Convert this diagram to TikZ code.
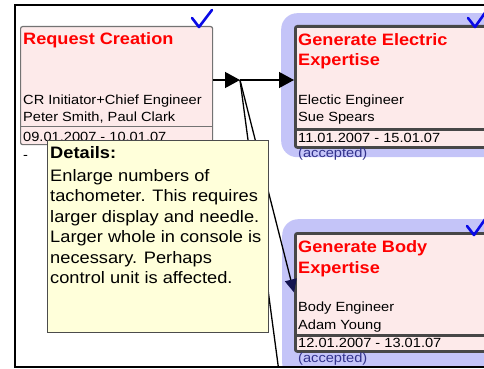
\documentclass[tikz,border=0pt]{standalone}
\usepackage{fontspec}
\setmainfont{Liberation Sans}[FakeStretch=1.1]
\usetikzlibrary{positioning,arrows.meta,calc}
\definecolor{taskpink}{RGB}{253,234,234}
\definecolor{halolav}{RGB}{196,196,248}
\definecolor{notefill}{RGB}{255,255,218}
\definecolor{acceptblue}{RGB}{50,50,140}
\definecolor{checkblue}{RGB}{10,10,230}
\definecolor{navytip}{RGB}{20,20,80}

\begin{document}
\begin{tikzpicture}[
  x=1pt, y=-1pt,
  task/.style={draw=black!55, fill=taskpink, rounded corners=2pt, line width=1.2pt, anchor=north west, inner sep=0pt},
  activetask/.style={task, draw=black!72, line width=2.8pt},
  halobox/.style={fill=halolav, rounded corners=16pt, anchor=north west, inner sep=0pt},
  notebox/.style={draw=black!70, fill=notefill, line width=1.2pt, anchor=north west, inner sep=0pt},
  ttl/.style={anchor=base west, inner sep=0pt, text=red, font=\fontsize{16.5}{20.5}\selectfont\bfseries, align=left},
  txt/.style={anchor=base west, inner sep=0pt, font=\fontsize{13.3}{17.5}\selectfont, align=left},
  notetxt/.style={anchor=base west, inner sep=0pt, font=\fontsize{16.6}{20.5}\selectfont, align=left},
  arr/.style={-{Triangle[length=15pt,width=16pt]}, line width=1.3pt},
  check/.style={draw=checkblue, line width=2.6pt, line cap=round, line join=round}
]
\useasboundingbox (0,0) rectangle (484,369);

\begin{scope}
\clip (15,5) rectangle (484,367);

% task boxes
\node[task, minimum width=192pt, minimum height=118pt] (req) at (20,26) {};
\node[halobox, minimum width=240pt, minimum height=144pt] (elechalo) at (281,13) {};
\node[activetask, minimum width=210pt, minimum height=121pt] (elec) at (294,25) {};
\node[halobox, minimum width=240pt, minimum height=160pt] (bodyhalo) at (282,219) {};
\node[activetask, minimum width=210pt, minimum height=118pt] (body) at (294,232) {};

\draw[draw=black!55, line width=1.2pt] ($(req.south west)+(0,-19)$) -- ($(req.south east)+(0,-19)$);
\draw[draw=black!72, line width=2.8pt] ($(elec.south west)+(0,-19)$) -- ($(elec.south east)+(0,-19)$);
\draw[draw=black!72, line width=2.8pt] ($(body.south west)+(0,-17)$) -- ($(body.south east)+(0,-17)$);

% texts (multi-line nodes sit on their last baseline)
\node[ttl] (reqtitle) at (23,45) {Request Creation};
\node[txt] (reqrole) at (23,104) {CR Initiator+Chief Engineer};
\node[txt] (reqname) at (23,121) {Peter Smith, Paul Clark};
\node[txt] (reqdate) at (23,141) {09.01.2007 - 10.01.07};
\node[txt] (reqstate) at (23,159) {-};

\node[ttl] (electitle) at (298,66) {Generate Electric\\Expertise};
\node[txt] (elecrole) at (298,104) {Electic Engineer};
\node[txt] (elecname) at (298,121) {Sue Spears};
\node[txt] (elecdate) at (298,142) {11.01.2007 - 15.01.07};
\node[txt, text=acceptblue] (elecstate) at (298,157) {(accepted)};

\node[ttl] (bodytitle) at (298,273) {Generate Body\\Expertise};
\node[txt] (bodyrole) at (298,311) {Body Engineer};
\node[txt] (bodyname) at (298,329) {Adam Young};
\node[txt] (bodydate) at (298,347) {12.01.2007 - 13.01.07};
\node[txt, text=acceptblue] (bodystate) at (298,362) {(accepted)};

% check marks
\draw[check] (192,18) -- (199,27) -- (212,10);
\draw[check] (468,18) -- (475,27) -- (487,10);
\draw[check] (467,226) -- (474,235) -- (486,218);

% connectors
\coordinate (split) at (240,80);
\coordinate (nexttask) at (279,372);
\draw[arr] (req.east |- split) -- (split);
\draw[arr] (split) -- (elec.west |- split);
\draw[line width=1.3pt, -{Triangle[length=13pt,width=12pt,color=navytip]}] (split) -- (body.west);
\draw[line width=1.3pt] (split) -- (nexttask);

% details note
\node[notebox, minimum width=221pt, minimum height=192pt] (note) at (47,140) {};
\node[notetxt, font=\fontsize{16.6}{20.5}\selectfont\bfseries] (notehead) at (50,158.5) {Details:};
\node[notetxt] (notebody) at (50,283.5) {Enlarge numbers of\\tachometer. This requires\\larger display and needle.\\Larger whole in console is\\necessary. Perhaps\\control unit is affected.};
\end{scope}

% frame
\draw[line width=2pt] (15,5) rectangle (500,367);
\end{tikzpicture}
\end{document}
